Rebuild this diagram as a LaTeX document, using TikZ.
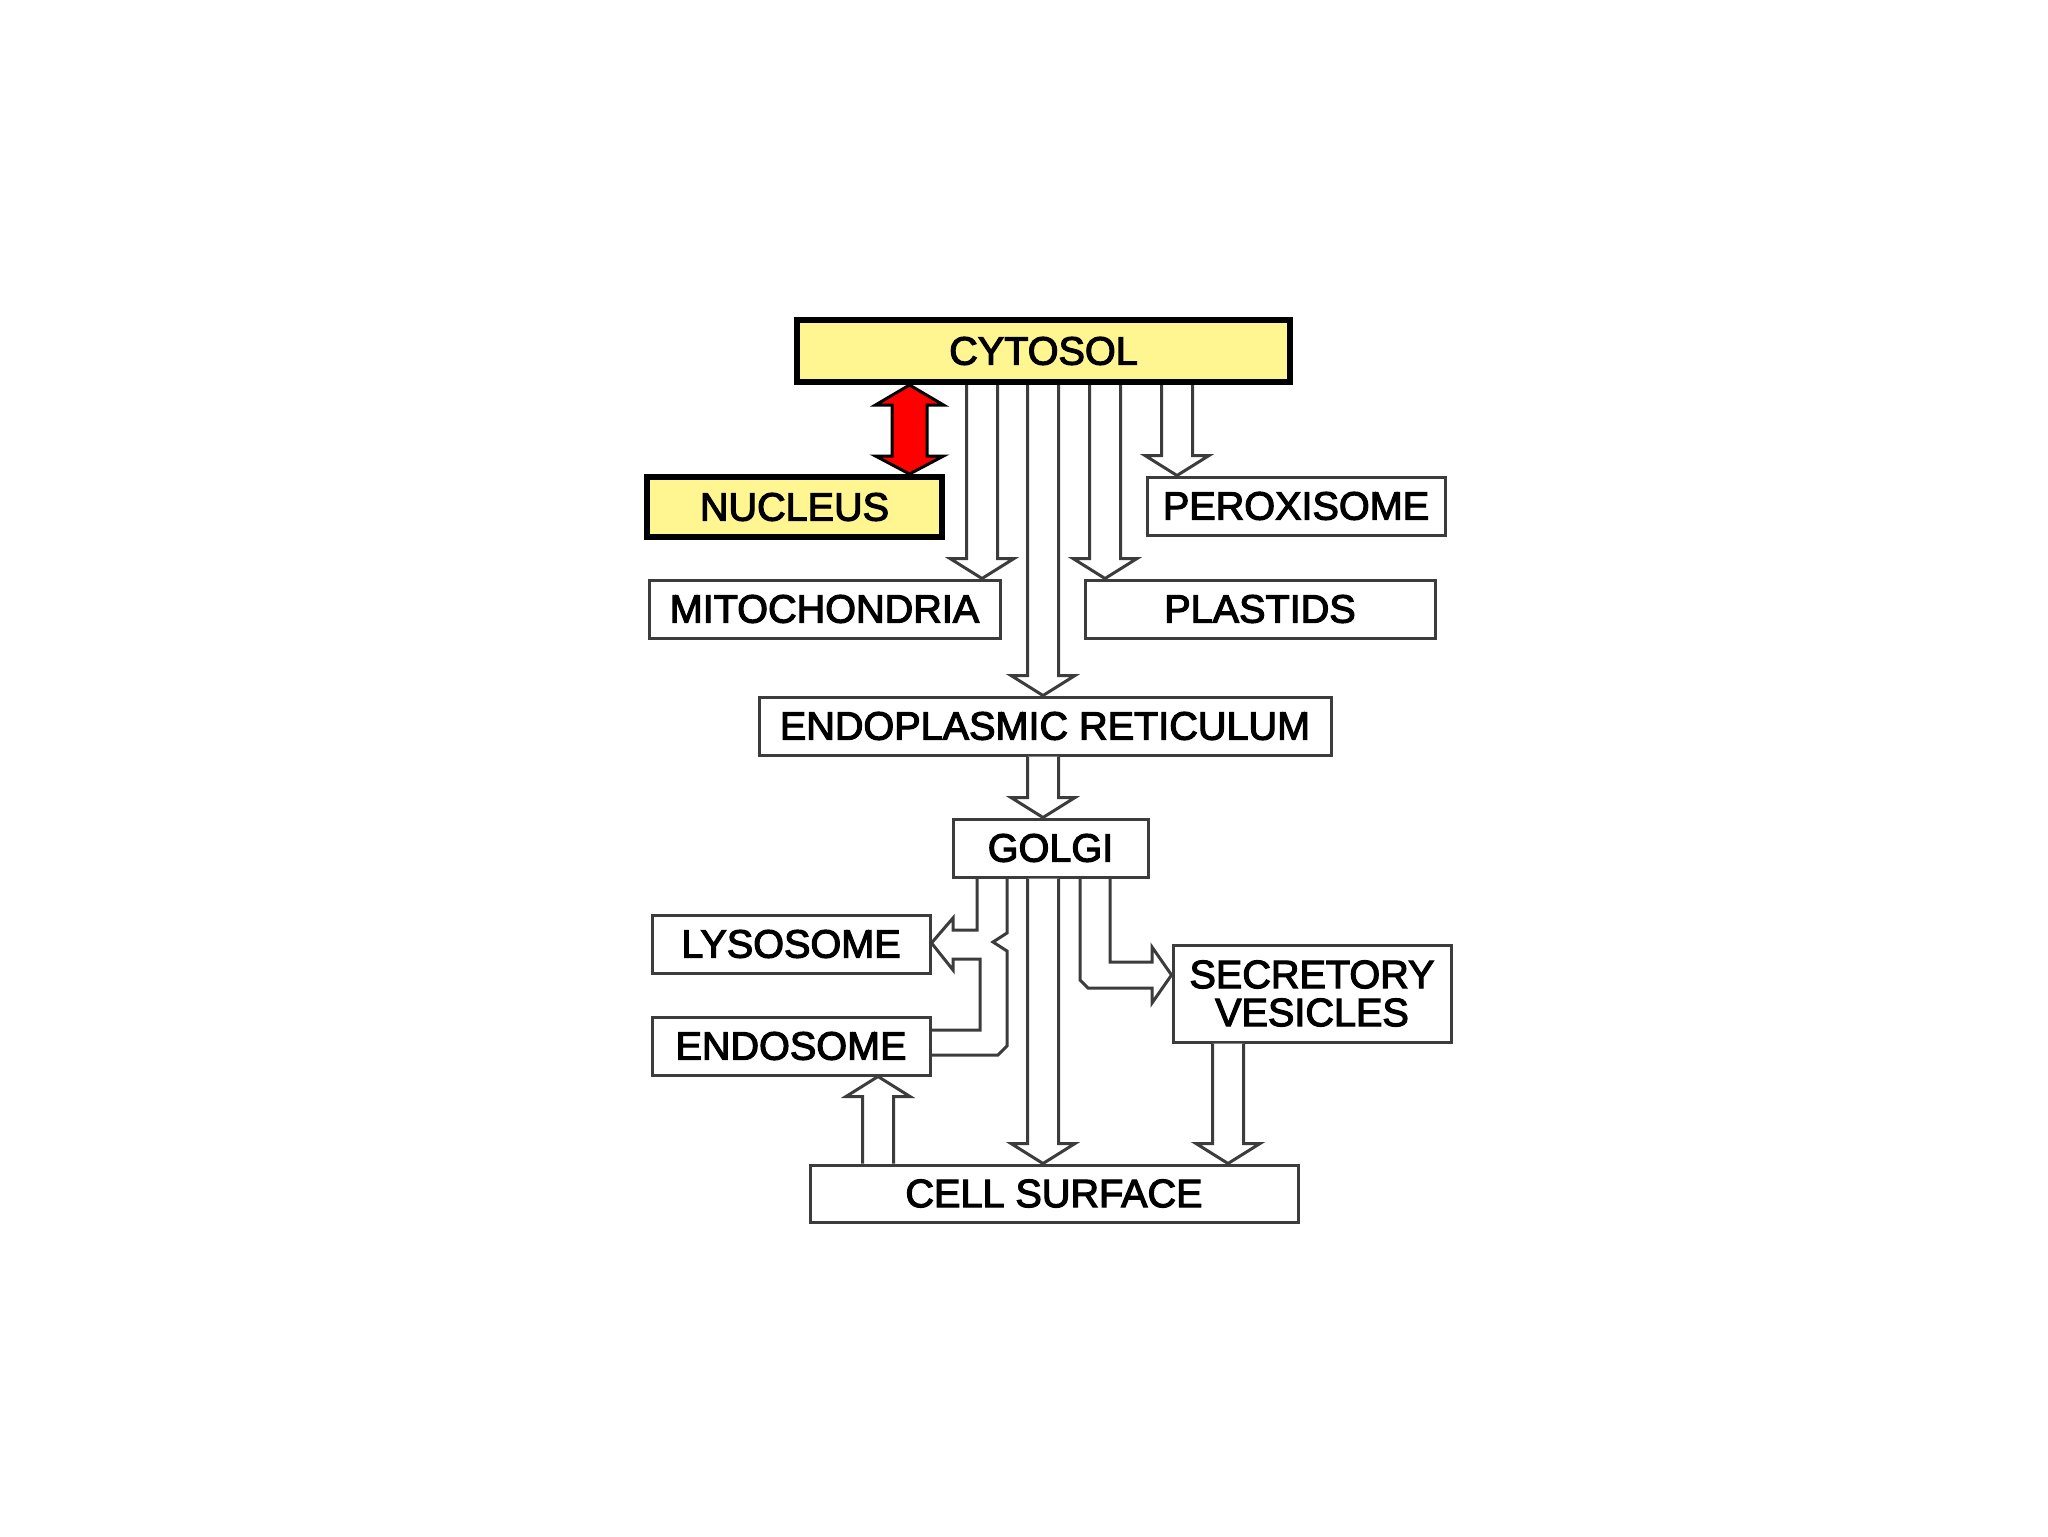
\documentclass[tikz,border=0pt]{standalone}
\usepackage{fontspec}
\setmainfont{Liberation Sans}
\newfontfamily\labfont{Liberation Sans}[FakeBold=3]
\usetikzlibrary{calc}
\definecolor{cyel}{RGB}{255,245,145}
\definecolor{bgray}{RGB}{60,60,60}
\tikzset{
  box/.style={draw=bgray, line width=1.5pt, fill=white, rectangle, inner sep=0pt,
    font=\labfont\fontsize{19.8}{19}\selectfont, text=black},
  ybox/.style={box, draw=black, line width=3pt, fill=cyel},
  hollow/.style={draw=bgray, line width=1.5pt, line join=miter, fill=white},
  thinline/.style={draw=bgray, line width=1.5pt, line join=miter},
  redarr/.style={draw=black, line width=1.5pt, fill=red, line join=miter}
}
\newcommand\hdown[3]{\draw[hollow] let \p0=(#1,0), \p1=(#2.south), \p2=(#3.north) in
  (\x0-7.75pt,\y1) -- (\x0-7.75pt,\y2+10pt) -- (\x0-16pt,\y2+10pt) -- (\x0,\y2)
  -- (\x0+16pt,\y2+10pt) -- (\x0+7.75pt,\y2+10pt) -- (\x0+7.75pt,\y1);}
\newcommand\hup[3]{\draw[hollow] let \p0=(#1,0), \p1=(#2.north), \p2=(#3.south) in
  (\x0-7.75pt,\y1) -- (\x0-7.75pt,\y2-10pt) -- (\x0-16pt,\y2-10pt) -- (\x0,\y2)
  -- (\x0+16pt,\y2-10pt) -- (\x0+7.75pt,\y2-10pt) -- (\x0+7.75pt,\y1);}
\begin{document}
\begin{tikzpicture}[x=0.5pt,y=-0.5pt]
\useasboundingbox (0,0) rectangle (2048,1536);
\fill[white] (0,0) rectangle (2048,1536);

% nodes
\node[ybox, minimum width=246.5pt, minimum height=31pt] (cyt) at (1043.5,351) {CYTOSOL};
\node[ybox, minimum width=147.5pt, minimum height=30pt] (nuc) at (794.5,507) {NUCLEUS};
\node[box, minimum width=149pt, minimum height=29pt] (per) at (1296,506) {PEROXISOME};
\node[box, minimum width=175.5pt, minimum height=29pt] (mit) at (824.5,609) {MITOCHONDRIA};
\node[box, minimum width=175pt, minimum height=29pt] (pla) at (1260,609) {PLASTIDS};
\node[box, minimum width=286pt, minimum height=29pt] (er) at (1045,726) {ENDOPLASMIC RETICULUM};
\node[box, minimum width=97.5pt, minimum height=29pt] (gol) at (1050.5,848) {GOLGI};
\node[box, minimum width=139pt, minimum height=29pt] (lys) at (791,944) {LYSOSOME};
\node[box, minimum width=139pt, minimum height=29pt] (endo) at (791,1046) {ENDOSOME};
\node[box, minimum width=139pt, minimum height=48.5pt, align=center] (sec) at (1312,993.5) {SECRETORY\\VESICLES};
\node[box, minimum width=244pt, minimum height=28.5pt] (cell) at (1054,1193.5) {CELL SURFACE};

% red double arrow cytosol <-> nucleus
\draw[redarr] let \p0=(909.5,0), \p1=(cyt.south), \p2=(nuc.north) in
  (\x0,\y1) -- (\x0+17pt,\y1-10pt) -- (\x0+8.75pt,\y1-10pt) -- (\x0+8.75pt,\y2+9pt)
  -- (\x0+17pt,\y2+9pt) -- (\x0,\y2) -- (\x0-17pt,\y2+9pt) -- (\x0-8.75pt,\y2+9pt)
  -- (\x0-8.75pt,\y1-10pt) -- (\x0-17pt,\y1-10pt) -- cycle;

% hollow arrows
\hdown{982}{cyt}{mit}
\hdown{1043}{cyt}{er}
\hdown{1105}{cyt}{pla}
\hdown{1177}{cyt}{per}
\hdown{1043}{er}{gol}
\hdown{1043}{gol}{cell}
\hdown{1228}{sec}{cell}
\hup{878}{cell}{endo}

% golgi -> lysosome / endosome
\draw[thinline] (977,0 |- gol.south) -- (977,930) -- (953,930) -- (953,918)
  -- (lys.east |- 0,943) -- (953,970) -- (953,959) -- (980,959) -- (980,1030)
  -- (endo.east |- 0,1030);
\draw[thinline] (1007,0 |- gol.south) -- (1007,933) -- (993,942) -- (1007,951)
  -- (1007,1046) -- (998,1055) -- (endo.east |- 0,1055);

% golgi -> secretory vesicles
\draw[thinline] (1110,0 |- gol.south) -- (1110,962) -- (1152,962) -- (1152,947)
  -- (sec.west |- 0,975) -- (1152,1003) -- (1152,988) -- (1088,988) -- (1080,980)
  -- (1080,0 |- gol.south);
\end{tikzpicture}
\end{document}
